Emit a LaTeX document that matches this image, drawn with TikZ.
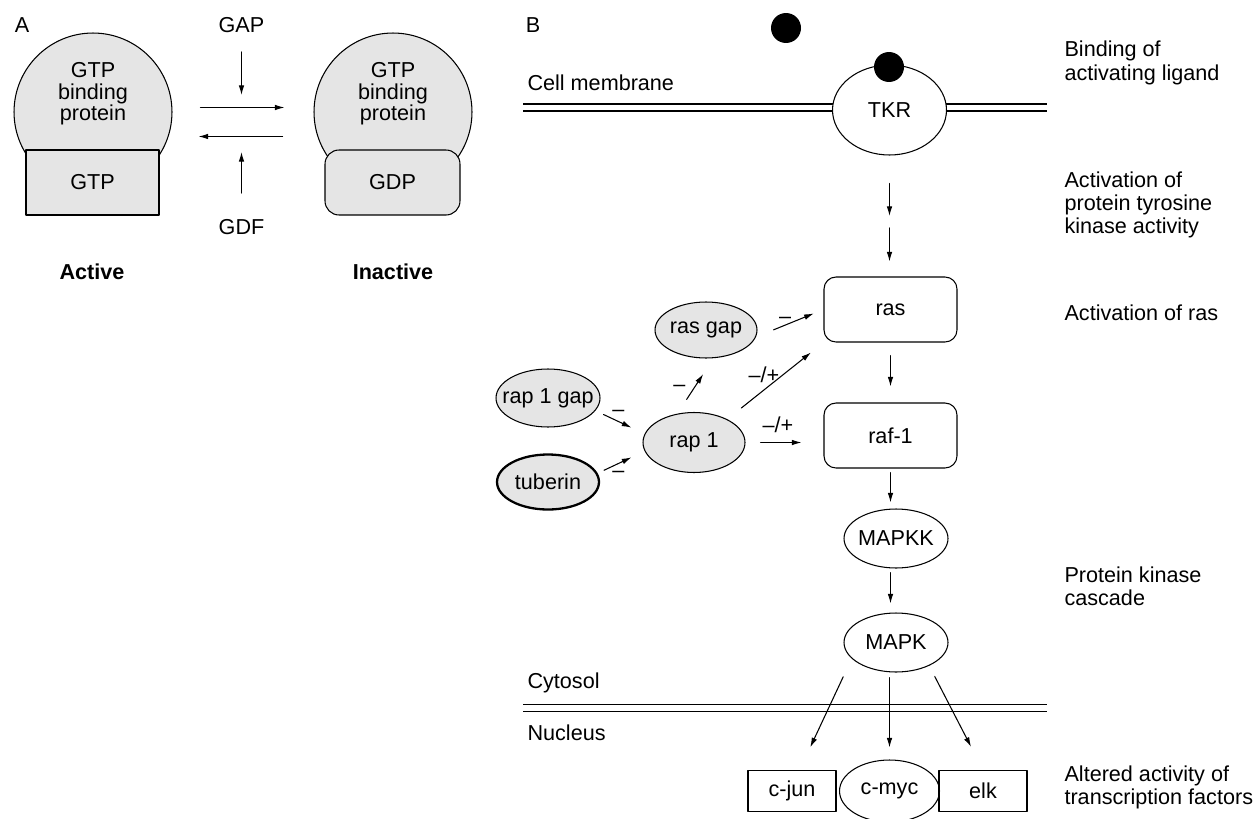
\documentclass[tikz,border=0pt]{standalone}
\usepackage{fontspec}
\setmainfont{Liberation Sans}
\usetikzlibrary{arrows.meta,shapes.geometric}
\definecolor{protgray}{RGB}{229,229,229}
\newcommand{\zwbox}[1]{\makebox[0pt]{#1}}

\tikzset{
  txt/.style={inner sep=0pt,font=\fontsize{12.3}{13.2}\selectfont},
  note/.style={txt,anchor=west,align=left},
  sign/.style={txt,text height=0.56em,text depth=0pt},
  arr/.style={-{Latex[length=5.5pt,width=3.2pt]}},
  prot/.style={ellipse,draw,fill=protgray,inner sep=0pt,minimum width=2.04cm,minimum height=1.16cm,font=\fontsize{12.3}{13.2}\selectfont},
  cascade/.style={ellipse,draw,fill=white,inner sep=0pt,minimum width=2.08cm,minimum height=1.18cm,font=\fontsize{12.3}{13.2}\selectfont},
  gbox/.style={rectangle,draw,rounded corners=0.24cm,inner sep=0pt,minimum width=2.66cm,minimum height=1.3cm,font=\fontsize{12.3}{13.2}\selectfont},
  tfbox/.style={rectangle,draw,inner sep=0pt,minimum width=1.76cm,minimum height=0.82cm,font=\fontsize{12.3}{13.2}\selectfont},
  membrane/.style={double,double distance=3.4pt,line cap=butt},
  ligand/.style={circle,fill=black,inner sep=0pt,minimum size=0.6cm},
}

\begin{document}
\begin{tikzpicture}[line cap=round,line join=round,x=0.02cm,y=-0.02cm,line width=0.6pt]
    \useasboundingbox (0,0) rectangle (1254,818);

    % A: GTP binding protein, active and inactive
    \node[txt] (labA) at (22,25) {A};
    \node[circle,draw,fill=protgray,inner sep=0pt,minimum size=3.16cm] (actCirc) at (93,112) {};
    \node[rectangle,draw,fill=protgray,inner sep=0pt,minimum width=2.66cm,minimum height=1.3cm,font=\fontsize{12.3}{13.2}\selectfont] (actBox) at (92.5,182.5) {GTP};
    \node[txt,align=center,font=\fontsize{12.3}{12.2}\selectfont] (actText) at (93,94) {GTP\\binding\\protein};
    \node[circle,draw,fill=protgray,inner sep=0pt,minimum size=3.16cm] (inactCirc) at (393,112) {};
    \node[rectangle,draw,fill=protgray,rounded corners=0.28cm,inner sep=0pt,minimum width=2.7cm,minimum height=1.3cm,font=\fontsize{12.3}{13.2}\selectfont] (inactBox) at (392.5,182.5) {GDP};
    \node[txt,align=center,font=\fontsize{12.3}{12.2}\selectfont] (inactText) at (393,94) {GTP\\binding\\protein};

    \draw[arr,shorten <=0.56cm,shorten >=0.58cm] ([yshift=0.09cm]actCirc.east) -- ([yshift=0.09cm]inactCirc.west);
    \draw[arr,shorten <=0.62cm,shorten >=0.52cm] ([yshift=-0.49cm]inactCirc.west) -- ([yshift=-0.49cm]actCirc.east);

    \node[txt] (gap) at (241.5,25) {GAP};
    \coordinate (gapEnd) at (241.5,95);
    \draw[arr,shorten <=0.54cm] (gap.center) -- (gapEnd);
    \node[txt] (gdf) at (241.5,227) {GDF};
    \coordinate (gdfEnd) at (241.5,152);
    \draw[arr,shorten <=0.68cm] (gdf.center) -- (gdfEnd);

    \node[txt,font=\fontsize{12.3}{13.2}\selectfont\bfseries] (active) at (92,272) {Active};
    \node[txt,font=\fontsize{12.3}{13.2}\selectfont\bfseries] (inactive) at (393,272) {Inactive};

    % B: signalling from the receptor to the nucleus
    \node[txt] (labB) at (533,25) {B};
    \node[note] (cellmem) at (527,83) {Cell membrane};
    \coordinate (memL) at (523,107.5);
    \coordinate (memR) at (1047,107.5);
    \draw[membrane] (memL) -- (memR);
    \node[ellipse,draw,fill=white,inner sep=0pt,minimum width=2.28cm,minimum height=1.8cm,font=\fontsize{12.3}{13.2}\selectfont] (tkr) at (889.5,110) {TKR};
    \node[ligand] (ligBound) at (889,67) {};
    \node[ligand] (ligFree) at (786,28) {};

    \node[note] (nBind) at (1064,63) {Binding of\\activating ligand};
    \node[note] (nTyr) at (1064,205) {Activation of\\protein tyrosine\\kinase activity};
    \node[note] (nRas) at (1064,313) {Activation of ras};
    \node[note] (nCasc) at (1064,586) {Protein kinase\\cascade};
    \node[note] (nTF) at (1064,787) {Altered activity of\\transcription factors};

    \coordinate (tkrMid) at (889.5,222);
    \node[gbox] (ras) at (890.5,309.5) {ras};
    \node[gbox] (raf) at (890.5,435.5) {raf-1};
    \node[cascade] (mapkk) at (896,538.5) {\zwbox{MAPKK}};
    \node[cascade] (mapk) at (896,642.5) {\zwbox{MAPK}};

    \draw[arr,shorten <=0.56cm,shorten >=0.12cm] (tkr.south) -- (tkrMid);
    \draw[arr,shorten <=0.12cm,shorten >=0.3cm] (tkrMid) -- (tkrMid |- ras.north);
    \draw[arr,shorten <=0.26cm,shorten >=0.32cm] (ras) -- (raf);
    \draw[arr,shorten <=0.08cm,shorten >=0.12cm] (raf.south) -- (raf.south |- mapkk.north);
    \draw[arr,shorten <=0.08cm,shorten >=0.18cm] (raf.south |- mapkk.south) -- (raf.south |- mapk.north);

    % regulators of ras
    \node[prot,minimum height=1.12cm] (rasgap) at (706,330) {\zwbox{ras gap}};
    \node[prot,minimum width=2.08cm] (rapgap) at (548,398) {\zwbox{rap 1 gap}};
    \node[prot,minimum height=1.2cm] (rap1) at (694,442.5) {\zwbox{rap 1}};
    \node[prot,line width=1.3pt,minimum height=1.1cm] (tuberin) at (548,482) {\zwbox{tuberin}};

    \draw[arr,shorten <=0.18cm,shorten >=0.29cm] (rapgap.-15) -- (rap1.170);
    \draw[arr,shorten <=0.14cm,shorten >=0.29cm] (tuberin.10) -- (rap1.190);
    \draw[arr,shorten <=0.34cm,shorten >=0.38cm] (rap1.120) -- (rasgap.-75);
    \draw[arr,shorten <=0.38cm,shorten >=0.21cm] (rasgap.-8) -- (ras.west);
    \draw[arr,shorten <=0.36cm,shorten >=0.32cm] (rap1.35) -- (ras.south west);
    \draw[arr,shorten <=0.3cm,shorten >=0.44cm] (rap1.east) -- (rap1.east -| raf.west);

    \node[sign] (mRasgap) at (785,319) {–};
    \node[sign] (mRapRas) at (764,378) {–/+};
    \node[sign] (mRapRaf) at (778,428) {–/+};
    \node[sign] (mRapUp) at (679.5,387) {–};
    \node[sign] (mRapgap) at (618.5,412) {–};
    \node[sign] (mTuberin) at (618.5,473) {–};

    % nucleus
    \node[note] (cyto) at (527,683) {Cytosol};
    \node[note] (nucl) at (527,733) {Nucleus};
    \coordinate (nucL) at (523,708);
    \coordinate (nucR) at (1047,708);
    \draw[membrane] (nucL) -- (nucR);

    \node[tfbox] (cjun) at (792,791) {c-jun};
    \node[ellipse,draw,inner sep=0pt,minimum width=2cm,minimum height=1.24cm,font=\fontsize{12.3}{13.2}\selectfont] (cmyc) at (889.5,791) {c-myc};
    \node[tfbox] (elk) at (983,791) {elk};

    \draw[arr,shorten <=0.4cm,shorten >=0.5cm] (mapk.200) -- (cjun.70);
    \draw[arr,shorten <=0.1cm,shorten >=0.24cm] (cmyc.north |- mapk.south) -- (cmyc.north);
    \draw[arr,shorten <=0.24cm,shorten >=0.52cm] (mapk.-35) -- (elk.north);
\end{tikzpicture}
\end{document}
